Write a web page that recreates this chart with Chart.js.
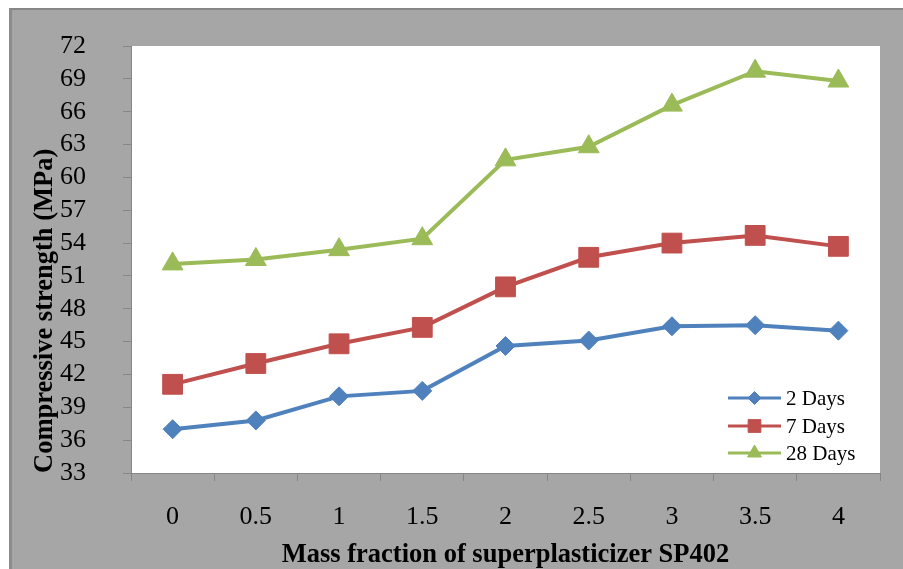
<!DOCTYPE html>
<html>
<head>
<meta charset="utf-8">
<script src="https://cdn.jsdelivr.net/npm/chart.js@4/dist/chart.umd.min.js"></script>
<style>
  html, body { margin: 0; padding: 0; background: #ffffff; }
  #wrap { position: relative; width: 903px; height: 569px; overflow: hidden; }
  #bg { position: absolute; left: 9px; top: 8px; right: 0; bottom: 0;
        background: #a6a6a6; border-left: 3px solid #8c8c8c; border-top: 2px solid #878787; }
  #c { position: absolute; left: 0; top: 0; }
</style>
</head>
<body>
<div id="wrap">
  <div id="bg"></div>
  <canvas id="c" width="903" height="569"></canvas>
</div>
<script>
const categories = ['0', '0.5', '1', '1.5', '2', '2.5', '3', '3.5', '4'];
const days2  = [37.0, 37.8, 40.0, 40.5, 44.6, 45.1, 46.4, 46.5, 46.0];
const days7  = [41.1, 43.0, 44.8, 46.3, 50.0, 52.7, 54.0, 54.7, 53.7];
const days28 = [52.1, 52.5, 53.4, 54.4, 61.6, 62.8, 66.6, 69.7, 68.8];
const seriesNames = ['2 Days', '7 Days', '28 Days'];
const yTitle = 'Compressive strength (MPa)';
const xTitle = 'Mass fraction of superplasticizer SP402';

const COLORS = ['#4f81bd', '#c0504d', '#9bbb59'];
const STYLES = ['rectRot', 'rect', 'triangle'];
const RADII  = [9.5, 14, 12];
const LEG_RADII = [6.5, 9, 8];
const SERIF = "'Liberation Serif', 'Times New Roman', serif";
const AXIS = '#868686';

const plotBg = {
  id: 'plotBg',
  beforeDraw(chart) {
    const {ctx, chartArea: a} = chart;
    ctx.save();
    ctx.fillStyle = '#ffffff';
    ctx.fillRect(a.left, a.top, a.right - a.left, a.bottom - a.top);
    ctx.restore();
  }
};

const innerLegend = {
  id: 'innerLegend',
  afterDraw(chart) {
    const {ctx, chartArea: a} = chart;
    ctx.save();
    const rowsY = [a.bottom - 75, a.bottom - 47, a.bottom - 20];
    const x0 = a.right - 152, x1 = a.right - 99, tx = a.right - 94;
    chart.data.datasets.forEach((ds, i) => {
      const y = rowsY[i];
      ctx.strokeStyle = ds.borderColor;
      ctx.lineWidth = 3;
      ctx.beginPath();
      ctx.moveTo(x0, y);
      ctx.lineTo(x1, y);
      ctx.stroke();
      ctx.fillStyle = ds.backgroundColor;
      ctx.strokeStyle = ds.borderColor;
      ctx.lineWidth = 1;
      Chart.helpers.drawPoint(ctx, {pointStyle: STYLES[i], radius: LEG_RADII[i], rotation: 0, borderWidth: 1}, (x0 + x1) / 2, y);
      ctx.fillStyle = '#000000';
      ctx.font = '21px ' + SERIF;
      ctx.textBaseline = 'middle';
      ctx.textAlign = 'left';
      ctx.fillText(seriesNames[i], tx, y + 1);
    });
    ctx.restore();
  }
};

const seriesData = [days2, days7, days28];
new Chart(document.getElementById('c'), {
  type: 'line',
  data: {
    labels: categories,
    datasets: seriesData.map((d, i) => ({
      label: seriesNames[i],
      data: d,
      borderColor: COLORS[i],
      backgroundColor: COLORS[i],
      borderWidth: 4,
      pointStyle: STYLES[i],
      pointRadius: RADII[i],
      pointHoverRadius: RADII[i],
      pointBorderWidth: 1,
      pointBackgroundColor: COLORS[i],
      pointBorderColor: COLORS[i],
      tension: 0,
      clip: false
    }))
  },
  options: {
    responsive: false,
    animation: false,
    devicePixelRatio: 1,
    layout: { padding: { top: 46, right: 23, left: 0, bottom: 0 } },
    plugins: {
      legend: { display: false },
      tooltip: { enabled: false }
    },
    scales: {
      x: {
        type: 'category',
        offset: true,
        afterFit(scale) { scale.height = 96; scale.paddingLeft = 0; scale.paddingRight = 0; },
        grid: { display: true, drawOnChartArea: false, drawTicks: true, tickLength: 8, color: AXIS, offset: true },
        border: { display: true, color: AXIS, width: 1 },
        ticks: { color: '#000000', font: { family: SERIF, size: 26 }, padding: 21, maxRotation: 0, autoSkip: false },
        title: { display: true, text: xTitle, color: '#000000',
                 font: { family: SERIF, size: 26.5, weight: 'bold' }, padding: { top: 0, bottom: -2 } }
      },
      y: {
        min: 33, max: 72,
        afterFit(scale) { scale.width = 131; scale.paddingTop = 0; scale.paddingBottom = 0; },
        ticks: { stepSize: 3, color: '#000000', font: { family: SERIF, size: 26 }, padding: 37, autoSkip: false },
        grid: { display: true, drawOnChartArea: false, drawTicks: true, tickLength: 8, color: AXIS },
        border: { display: true, color: AXIS, width: 1 },
        title: { display: true, text: yTitle, align: 'start', color: '#000000',
                 font: { family: SERIF, size: 26.5, weight: 'bold' }, padding: { top: 29, bottom: 0 } }
      }
    }
  },
  plugins: [plotBg, innerLegend]
});
</script>
</body>
</html>
